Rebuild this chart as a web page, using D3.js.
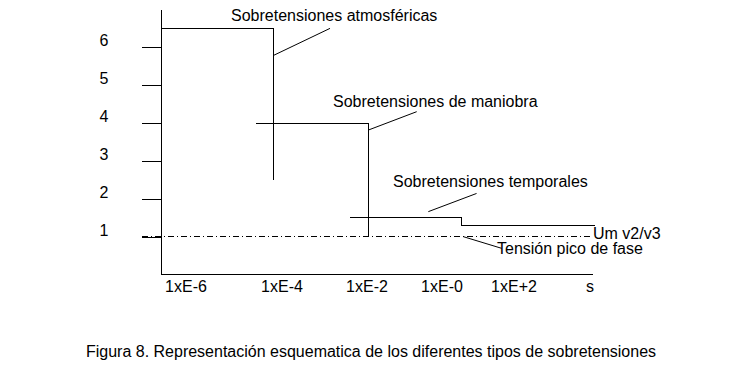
<!DOCTYPE html>
<html>
<head>
<meta charset="utf-8">
<script src="https://cdn.jsdelivr.net/npm/d3@7"></script>
<style>
  html, body { margin: 0; padding: 0; background: #fff; }
  svg { display: block; }
  text { font-family: Arial, "Liberation Sans", sans-serif; fill: #000; }
</style>
</head>
<body>
<svg id="chart" width="730" height="371"></svg>
<script>
// ---- Data (time as log10 seconds, value in p.u.) ----
const xTickExps   = [-6, -4, -2, 0, 2, 4];
const xTickLabels = ["1xE-6", "1xE-4", "1xE-2", "1xE-0", "1xE+2", "s"];
const yTicks      = [1, 2, 3, 4, 5, 6];
const yTickLabels = ["1", "2", "3", "4", "5", "6"];

const atmosfericas = [[-6.52, 6.5], [-4.17, 6.5], [-4.17, 2.5]];
const maniobra     = [[-4.54, 4.0], [-1.95, 4.0], [-1.95, 1.0]];
const temporales   = [[-2.40, 1.5], [0.53, 1.5], [0.53, 1.3], [4.13, 1.3]];
const picoFase     = [[-6.92, 1.0], [4.05, 1.0]];

const axisOrigin = [-6.52, 0];
const axisXEnd   = 4.09;
const axisYTop   = 6.98;

const annotations = [
  { text: "Sobretensiones atmosféricas", from: [-4.17, 5.79], to: [-2.87, 6.50], label: [231, 21] },
  { text: "Sobretensiones de maniobra",   from: [-1.95, 3.82], to: [-0.675, 4.30], label: [333, 107] },
  { text: "Sobretensiones temporales",    from: [-0.365, 1.66], to: [0.96, 2.14], label: [393, 187] },
  { text: "Tensión pico de fase",         from: [0.59, 1.0],   to: [1.66, 0.69], label: [497, 254] }
];
const phaseLabel = "Um v2/v3";
const caption = "Figura 8. Representación esquematica de los diferentes tipos de sobretensiones";

// ---- Scales ----
const x = d3.scaleLinear().domain(xTickExps).range([186, 282, 367, 442, 514, 590]);
const y = d3.scaleLinear().domain([0, 6]).range([274.5, 47.3]);

const svg = d3.select("#chart");
const line = d3.line().x(d => x(d[0])).y(d => y(d[1]));

const stroke = (sel) => sel.attr("fill", "none").attr("stroke", "#000")
  .attr("stroke-width", 1).attr("shape-rendering", "crispEdges");

// axes
stroke(svg.append("line")
  .attr("x1", x(axisOrigin[0])).attr("x2", x(axisOrigin[0]))
  .attr("y1", y(axisYTop)).attr("y2", y(0)));
stroke(svg.append("line")
  .attr("x1", x(axisOrigin[0])).attr("x2", x(axisXEnd))
  .attr("y1", y(0)).attr("y2", y(0)));

// y ticks
const yAxis = d3.axisLeft(y).tickValues(yTicks).tickSize(19).tickFormat("");
const gy = svg.append("g").attr("transform", `translate(${x(axisOrigin[0])},0)`).call(yAxis);
gy.select(".domain").remove();
gy.selectAll(".tick line").attr("stroke", "#000").attr("stroke-width", 1).attr("shape-rendering", "crispEdges");

svg.append("g").selectAll("text").data(yTicks).join("text")
  .attr("x", 104).attr("y", d => y(d) - 1)
  .attr("text-anchor", "middle")
  .attr("font-size", 16)
  .text((d, i) => yTickLabels[i]);

// x tick labels
svg.append("g").selectAll("text").data(xTickExps).join("text")
  .attr("x", d => x(d)).attr("y", 292)
  .attr("text-anchor", "middle")
  .attr("font-size", 16)
  .text((d, i) => xTickLabels[i]);

// phase peak dash-dot line
stroke(svg.append("path").attr("d", line(picoFase))).attr("stroke-dasharray", "6,3,1,3");

// step lines
[atmosfericas, maniobra, temporales].forEach(s => stroke(svg.append("path").attr("d", line(s))));

// annotations
annotations.forEach(a => {
  svg.append("line")
    .attr("x1", x(a.from[0])).attr("y1", y(a.from[1]))
    .attr("x2", x(a.to[0])).attr("y2", y(a.to[1]))
    .attr("stroke", "#000").attr("stroke-width", 1);
  svg.append("text").attr("x", a.label[0]).attr("y", a.label[1])
    .attr("font-size", 16).text(a.text);
});

svg.append("text").attr("x", 593).attr("y", 239).attr("font-size", 16).text(phaseLabel);

svg.append("text").attr("x", 371).attr("y", 357).attr("text-anchor", "middle")
  .attr("font-size", 16).text(caption);
</script>
</body>
</html>
